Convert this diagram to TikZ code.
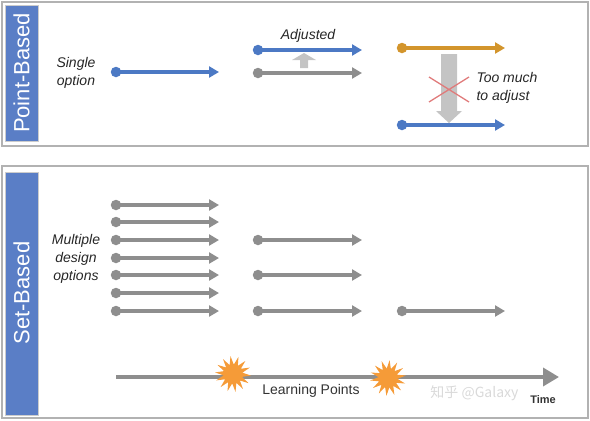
\documentclass[tikz,border=0pt]{standalone}
\usepackage{fontspec}
\setmainfont{Liberation Sans}
\newfontfamily\cjkfont{Noto Sans CJK SC}
\usetikzlibrary{
	arrows.meta,
	shapes.geometric
}
\definecolor{barblue}{HTML}{5A7EC6}
\definecolor{optblue}{HTML}{4C79C4}
\definecolor{optgray}{HTML}{8E8E8E}
\definecolor{optgold}{HTML}{D3952C}
\definecolor{burst}{HTML}{F59B38}
\definecolor{crossred}{HTML}{E07B7B}
\definecolor{blockgray}{HTML}{C4C4C4}
\tikzset{
	panel/.style={draw=gray!60, line width=1.2pt},
	sidebar/.style={fill=barblue, draw=gray!40, line width=0.6pt},
	sidelabel/.style={white, rotate=90, font=\fontsize{22}{24}\selectfont},
	dot/.style={circle, inner sep=0pt, minimum size=10.5pt},
	opt/.style={line width=3.6pt, -{Triangle[length=10pt,width=11pt]}, shorten <=-1pt},
	lbl/.style={font=\itshape\fontsize{14}{18}\selectfont, align=center, text=black!85},
	burstnode/.style={star, star points=14, star point ratio=1.9, fill=burst,
		inner sep=0pt, minimum size=36pt}
}

\begin{document}
\begin{tikzpicture}[x=1pt, y=-1pt]
	\useasboundingbox (0,0) rectangle (590,421);
	%%%% POINT-BASED
	\draw[panel] (2,2) rectangle (588,146);
	\draw[sidebar] (5,5) rectangle (38,141);
	\node[sidelabel] (pb) at (21.5,73) {Point-Based};
	% single option
	\node[lbl] (single) at (76,73) {Single\\option};
	\node[dot, fill=optblue] (a1) at (116,72) {};
	\coordinate (a1e) at (219,72);
	\draw[opt, optblue] (a1.center) -- (a1e);
	% adjusted
	\node[dot, fill=optblue] (b1) at (258,50) {};
	\coordinate (b1e) at (362,50);
	\node[dot, fill=optgray] (b2) at (258,73) {};
	\coordinate (b2e) at (362,73);
	\draw[opt, optblue] (b1.center) -- (b1e);
	\draw[opt, optgray] (b2.center) -- (b2e);
	\fill[blockgray] (300,68) -- (300,60) -- (292,60) -- (304,53) -- (316,60) -- (308,60) -- (308,68) -- cycle;
	\node[lbl] (adj) at (308,36) {Adjusted};
	% too much to adjust
	\node[dot, fill=optgold] (c1) at (402,48) {};
	\coordinate (c1e) at (505,48);
	\node[dot, fill=optblue] (c2) at (402,125) {};
	\coordinate (c2e) at (505,125);
	\fill[blockgray] (441,54) -- (457,54) -- (457,111) -- (462,111) -- (449,123) -- (436,111) -- (441,111) -- cycle;
	\draw[opt, optgold] (c1.center) -- (c1e);
	\draw[opt, optblue] (c2.center) -- (c2e);
	\coordinate (x1) at (429,77);
	\coordinate (x2) at (469,102);
	\coordinate (x3) at (429,102);
	\coordinate (x4) at (469,77);
	\draw[crossred, line width=1.3pt] (x1) -- (x2) (x3) -- (x4);
	\node[lbl, align=left] (toomuch) at (507,88) {Too much\\to adjust};

	%%%% SET-BASED
	\draw[panel] (2,166) rectangle (588,418);
	\draw[sidebar] (5,172) rectangle (38,415);
	\node[sidelabel] (sb) at (21.5,293) {Set-Based};
	\node[lbl] (multi) at (76,259) {Multiple\\design\\options};
	\foreach \y [count=\i] in {205,222,240,258,275,293,311} {
		\node[dot, fill=optgray] (r\i) at (116,\y) {};
		\coordinate (r\i e) at (219,\y);
		\draw[opt, optgray] (r\i.center) -- (r\i e);
	}
	\foreach \y [count=\i] in {240,275,311} {
		\node[dot, fill=optgray] (s\i) at (258,\y) {};
		\coordinate (s\i e) at (362,\y);
		\draw[opt, optgray] (s\i.center) -- (s\i e);
	}
	\node[dot, fill=optgray] (t1) at (402,311) {};
	\coordinate (t1e) at (505,311);
	\draw[opt, optgray] (t1.center) -- (t1e);
	% time line
	\coordinate (ts) at (116,377);
	\coordinate (te) at (559,377);
	\draw[optgray, line width=3.6pt, -{Triangle[length=16pt,width=18pt]}] (ts) -- (te);
	\node[burstnode, rotate=8] (lp1) at (233,374) {};
	\node[burstnode, rotate=-5] (lp2) at (388,378) {};
	\node[font=\fontsize{14}{16}\selectfont, text=black!80] (learn) at (311,391) {Learning Points};
	\node[font=\cjkfont\fontsize{14}{16}\selectfont, text=gray!30, anchor=east] (wm) at (522,393) {知乎 @Galaxy};
	\node[font=\bfseries\fontsize{11}{13}\selectfont, text=black!80] (time) at (543,400) {Time};
\end{tikzpicture}
\end{document}
